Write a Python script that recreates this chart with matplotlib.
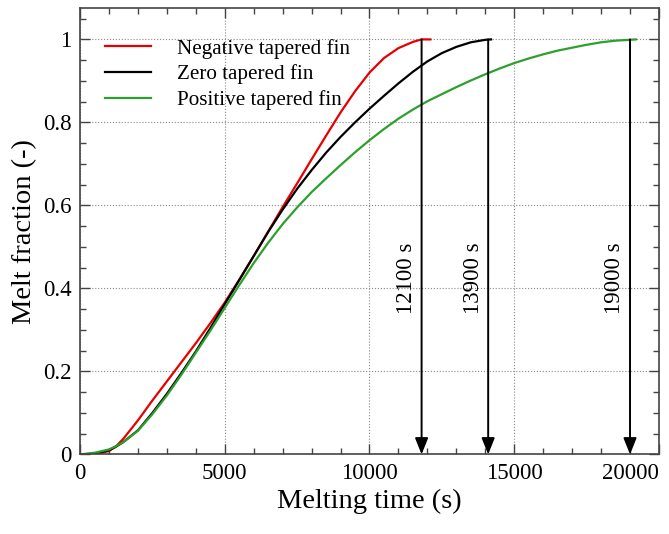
import numpy as np
import matplotlib
matplotlib.use('Agg')
import matplotlib.pyplot as plt
from matplotlib.ticker import MultipleLocator

plt.rcParams['font.family'] = 'Liberation Serif'

# melting time (s) and melt fraction (-)
t_neg = [0, 500, 1000, 1250, 1500, 2000, 2500, 3000, 3500, 4000, 4500, 5000, 5500,
         6000, 6500, 7000, 7500, 8000, 8500, 9000, 9500, 10000, 10500, 11000,
         11500, 11800, 12100]
f_neg = [0, 0.001, 0.008, 0.02, 0.038, 0.082, 0.13, 0.176, 0.222, 0.268, 0.316,
         0.366, 0.421, 0.478, 0.537, 0.596, 0.653, 0.711, 0.768, 0.824, 0.875, 0.92,
         0.955, 0.979, 0.994, 1.0, 1.0]

t_zero = [0, 500, 1000, 1250, 1500, 2000, 2500, 3000, 3500, 4000, 4500, 5000, 5500,
          6000, 6500, 7000, 7500, 8000, 8500, 9000, 9500, 10000, 10500, 11000,
          11500, 12000, 12500, 13000, 13500, 14000, 14200]
f_zero = [0, 0.002, 0.01, 0.019, 0.03, 0.058, 0.1, 0.146, 0.196, 0.248, 0.304, 0.362,
          0.42, 0.478, 0.536, 0.59, 0.64, 0.685, 0.727, 0.765, 0.8, 0.833, 0.864,
          0.894, 0.922, 0.947, 0.967, 0.982, 0.993, 0.999, 1.0]

t_pos = [0, 500, 1000, 1250, 1500, 2000, 2500, 3000, 3500, 4000, 4500, 5000, 5500,
         6000, 6500, 7000, 7500, 8000, 8500, 9000, 9500, 10000, 10500, 11000,
         11500, 12000, 12500, 13000, 13500, 14000, 14500, 15000, 15500, 16000,
         16500, 17000, 17500, 18000, 18500, 19000, 19200]
f_pos = [0, 0.004, 0.012, 0.02, 0.03, 0.057, 0.097, 0.142, 0.192, 0.245, 0.298, 0.353,
         0.408, 0.461, 0.51, 0.555, 0.595, 0.632, 0.665, 0.697, 0.728, 0.757, 0.784,
         0.809, 0.831, 0.851, 0.868, 0.885, 0.901, 0.916, 0.93, 0.943, 0.954, 0.964,
         0.973, 0.98, 0.987, 0.993, 0.997, 0.999, 1.0]

series = ['Negative tapered fin', 'Zero tapered fin', 'Positive tapered fin']
colors = ['#e60000', 'black', '#2ca02c']

arrow_x = [11800, 14100, 19000]
arrow_labels = ['12100 s', '13900 s', '19000 s']

x_ticks = [0, 5000, 10000, 15000, 20000]
y_ticks = [0, 0.2, 0.4, 0.6, 0.8, 1.0]
y_tick_labels = ['0', '0.2', '0.4', '0.6', '0.8', '1']

fig = plt.figure(figsize=(6.69, 5.34), dpi=100)
ax = fig.add_axes([0.1196, 0.149, 0.8654, 0.8355])

for t, f, name, c in zip([t_neg, t_zero, t_pos], [f_neg, f_zero, f_pos], series, colors):
    ax.plot(t, f, color=c, lw=1.6, label=name)

# arrows marking the end of melting
for x, lab in zip(arrow_x, arrow_labels):
    ax.annotate('', xy=(x, 0), xytext=(x, 1),
                arrowprops=dict(arrowstyle='-|>,head_length=0.55,head_width=0.22',
                                color='black', lw=1.4, shrinkA=0, shrinkB=0,
                                mutation_scale=18))
    ax.text(x - 520, 0.425, lab, rotation=90, ha='center', va='center', fontsize=16.5)

ax.set_xlim(0, 20000)
ax.set_ylim(0, 1.075)
ax.set_xticks(x_ticks, labels=[str(v) for v in x_ticks])
ax.xaxis.set_minor_locator(MultipleLocator(1000))
ax.set_yticks(y_ticks, labels=y_tick_labels)
ax.yaxis.set_minor_locator(MultipleLocator(0.05))
ax.tick_params(which='both', direction='in', top=True, right=True, color='#444444',
               labelsize=16.5, width=1)
ax.tick_params(which='major', length=7, pad=6)
ax.tick_params(which='minor', length=4)
for s in ax.spines.values():
    s.set_color('#444444')
    s.set_linewidth(1.2)

# last label sits against the right edge
ax.get_xticklabels()[-1].set_horizontalalignment('right')

ax.grid(True, which='major', ls=':', color='#888888', lw=0.8)

ax.set_xlabel('Melting time (s)', fontsize=20.5)
ax.set_ylabel('Melt fraction (-)', fontsize=20.5)

ax.legend(loc='upper left', bbox_to_anchor=(0.043, 0.932), frameon=False,
          fontsize=15.2, handlelength=2.2, handletextpad=1.2, labelspacing=0.28,
          borderpad=0, borderaxespad=0)

fig.savefig('out.png', dpi=100)
